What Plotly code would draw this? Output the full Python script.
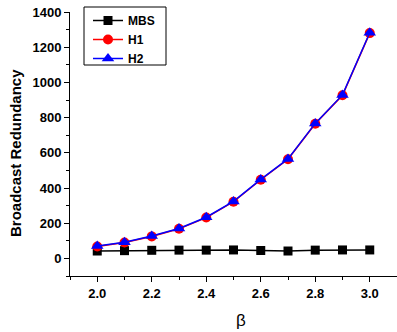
import plotly.graph_objects as go

beta = [2.0, 2.1, 2.2, 2.3, 2.4, 2.5, 2.6, 2.7, 2.8, 2.9, 3.0]
mbs = [42, 44, 46, 47, 47, 48, 45, 42, 47, 48, 48]
h1 = [68, 90, 125, 168, 232, 322, 447, 563, 765, 927, 1280]
h2 = [70, 92, 127, 170, 234, 324, 449, 565, 767, 929, 1282]
x_ticks = [2.0, 2.2, 2.4, 2.6, 2.8, 3.0]
x_ticktext = ["2.0", "2.2", "2.4", "2.6", "2.8", "3.0"]
y_ticks = [0, 200, 400, 600, 800, 1000, 1200, 1400]

FONT = "Liberation Sans, Arial"
W, H = 397, 332
L, R, T, B = 70, 0, 12, 56
pw, ph = W - L - R, H - T - B

def px_x(p):
    return (p - L) / pw

def px_y(p):
    return (H - B - p) / ph

fig = go.Figure()
fig.add_trace(go.Scatter(x=beta, y=mbs, name="MBS", mode="lines+markers",
                         line=dict(color="black", width=1.5),
                         marker=dict(symbol="square", size=9, color="black")))
fig.add_trace(go.Scatter(x=beta, y=h1, name="H1", mode="lines+markers",
                         line=dict(color="red", width=1.5),
                         marker=dict(symbol="circle", size=10, color="red")))
fig.add_trace(go.Scatter(x=beta, y=h2, name="H2", mode="lines+markers",
                         line=dict(color="blue", width=1.5),
                         marker=dict(symbol="triangle-up", size=11, color="blue")))

fig.update_layout(
    width=W, height=H,
    margin=dict(l=L, r=R, t=T, b=B, autoexpand=False),
    paper_bgcolor="white", plot_bgcolor="white",
    font=dict(family=FONT, color="black"),
    showlegend=True,
    legend=dict(x=px_x(88), y=px_y(6), xanchor="left", yanchor="top",
                borderwidth=0, bgcolor="rgba(0,0,0,0)",
                font=dict(family=FONT, size=12, color="black", weight="bold"),
                tracegroupgap=0, itemwidth=30),
    shapes=[dict(type="rect", xref="paper", yref="paper",
                 x0=px_x(84), x1=px_x(166), y0=px_y(65), y1=px_y(7),
                 line=dict(color="black", width=1), fillcolor="rgba(0,0,0,0)", layer="above")],
    annotations=[
        dict(text="Broadcast Redundancy", textangle=-90, xref="paper", yref="paper",
             x=px_x(15), y=px_y(153), xanchor="center", yanchor="middle", showarrow=False,
             font=dict(family=FONT, size=15, color="black", weight="bold")),
        dict(text="β", xref="paper", yref="paper",
             x=px_x(241), y=px_y(320), xanchor="center", yanchor="middle", showarrow=False,
             font=dict(family=FONT, size=17, color="black")),
    ],
    xaxis=dict(range=[1.9, 3.1], tickvals=x_ticks, ticktext=x_ticktext, automargin=False,
               showline=True, linecolor="black", linewidth=1, showgrid=False, zeroline=False,
               ticks="outside", ticklen=5, tickcolor="black",
               minor=dict(dtick=0.1, tick0=1.9, ticks="outside", ticklen=3, tickcolor="black"),
               tickfont=dict(family=FONT, size=13, color="black", weight="bold")),
    yaxis=dict(range=[-100, 1400], tickvals=y_ticks, automargin=False,
               showline=True, linecolor="black", linewidth=1, showgrid=False, zeroline=False,
               ticks="outside", ticklen=5, tickcolor="black",
               minor=dict(dtick=100, tick0=-100, ticks="outside", ticklen=3, tickcolor="black"),
               tickfont=dict(family=FONT, size=13, color="black", weight="bold")),
)
fig.write_html("out.html", config={"displayModeBar": False},
               post_script="document.body.style.margin='0';document.body.style.overflow='hidden';")
